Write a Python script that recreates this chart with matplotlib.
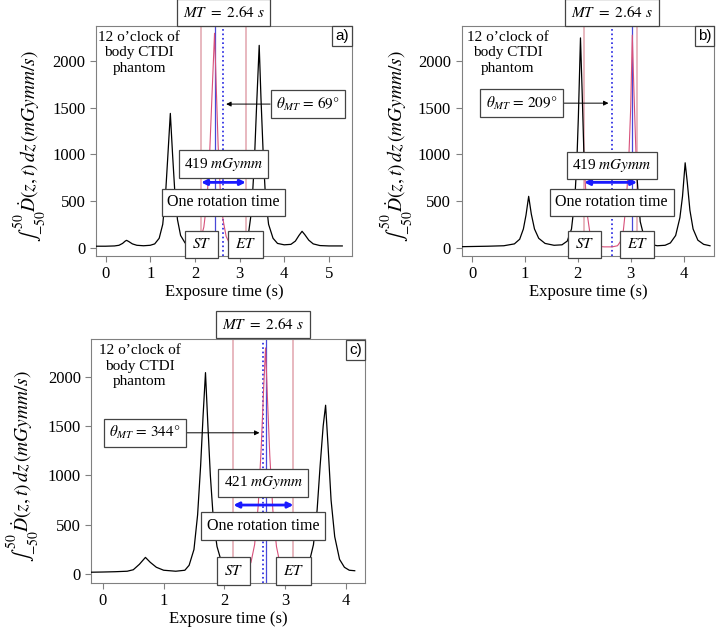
import matplotlib
matplotlib.use('Agg')
import matplotlib.pyplot as plt
import numpy as np

plt.rcParams['font.family'] = 'Liberation Serif'
plt.rcParams['mathtext.fontset'] = 'stix'

# panel a) : 69 deg
t_a = [-0.22, 0.0, 0.2, 0.3, 0.38, 0.44, 0.47, 0.52, 0.6, 0.7, 0.85, 1.0, 1.1, 1.2, 1.28, 1.34, 1.39,
       1.45, 1.5, 1.55, 1.61, 1.68, 1.78, 1.9, 2.0, 2.08, 2.14, 2.2, 2.27, 2.33, 2.38, 2.44, 2.48, 2.52,
       2.57, 2.63, 2.7, 2.78, 2.9, 3.0, 3.1, 3.14, 3.2, 3.27, 3.33, 3.38, 3.44, 3.48, 3.53, 3.58, 3.65,
       3.75, 3.85, 4.0, 4.15, 4.25, 4.33, 4.4, 4.46, 4.55, 4.65, 4.8, 5.0, 5.3]
d_a = [15, 15, 18, 25, 45, 70, 78, 65, 40, 25, 20, 25, 40, 100, 250, 550, 950,
       1440, 1000, 600, 300, 130, 50, 30, 30, 50, 110, 220, 500, 1000, 1600, 2300, 1700, 1100,
       600, 300, 120, 40, 20, 25, 50, 70, 150, 400, 900, 1500, 2170, 1600, 1000, 550, 250,
       100, 45, 30, 35, 70, 130, 175, 140, 80, 40, 22, 18, 18]

# panel b) : 209 deg
t_b = [-0.2, 0.0, 0.3, 0.6, 0.8, 0.9, 0.97, 1.02, 1.07, 1.12, 1.18, 1.26, 1.38, 1.55, 1.7, 1.8, 1.88,
       1.94, 1.98, 2.01, 2.05, 2.08, 2.12, 2.14, 2.18, 2.23, 2.29, 2.35, 2.5, 2.65, 2.75, 2.8, 2.86,
       2.91, 2.96, 3.0, 3.03, 3.06, 3.1, 3.12, 3.18, 3.25, 3.35, 3.5, 3.65, 3.75, 3.85, 3.93, 3.98,
       4.03, 4.07, 4.12, 4.18, 4.27, 4.38, 4.5]
d_b = [10, 12, 15, 20, 40, 90, 200, 350, 550, 360, 200, 100, 45, 25, 30, 70, 200,
       500, 900, 1400, 2250, 1700, 900, 700, 350, 150, 50, 15, 8, 8, 20, 60, 180,
       450, 900, 1500, 2280, 1700, 1000, 750, 280, 120, 40, 20, 25, 50, 130, 320, 550,
       910, 700, 400, 200, 80, 35, 20]

# panel c) : 344 deg
t_c = [-0.19, 0.0, 0.2, 0.4, 0.5, 0.6, 0.7, 0.78, 0.88, 1.0, 1.2, 1.35, 1.42, 1.5, 1.56, 1.61, 1.65,
       1.69, 1.73, 1.77, 1.82, 1.88, 1.95, 2.05, 2.15, 2.3, 2.38, 2.44, 2.5, 2.56, 2.61, 2.65, 2.68,
       2.71, 2.75, 2.8, 2.86, 2.92, 3.0, 3.14, 3.3, 3.4, 3.47, 3.53, 3.58, 3.63, 3.67, 3.71, 3.76,
       3.82, 3.9, 3.98, 4.06, 4.15]
d_c = [20, 22, 25, 30, 45, 100, 170, 120, 70, 40, 30, 40, 90, 250, 600, 1100, 1600,
       2040, 1500, 1000, 550, 280, 130, 70, 35, 30, 45, 120, 300, 700, 1300, 1900, 2290,
       1800, 1200, 650, 280, 100, 45, 35, 60, 120, 300, 650, 1100, 1500, 1710, 1300, 750,
       380, 150, 70, 40, 35]

start_times = [2.14, 2.12, 2.15]
end_times = [3.14, 3.12, 3.14]
peak_times = [2.44, 3.03, 2.68]
mid_time = 2.64
angles = ['69', '209', '344']
doses = ['419', '419', '421']
letters = ['a)', 'b)', 'c)']
y_ticks = [0, 500, 1000, 1500, 2000]

fig = plt.figure(figsize=(7.2, 6.29), dpi=100)
ax_a = fig.add_axes([0.133, 0.593, 0.356, 0.366])
ax_b = fig.add_axes([0.641, 0.593, 0.351, 0.366])
ax_c = fig.add_axes([0.127, 0.073, 0.380, 0.388])

box = dict(boxstyle='square,pad=0.35', fc='white', ec='#444444', lw=0.9)


def panel(ax, t, d, i, xlim, xticks, theta_pos, dose_y, text_x):
    t = np.array(t)
    d = np.array(d)
    st, et = start_times[i], end_times[i]
    inside = (t >= st) & (t <= et)
    before = t <= st
    after = t >= et
    ax.plot(t[before], d[before], color='black', lw=0.9, zorder=3)
    ax.plot(t[after], d[after], color='black', lw=0.9, zorder=3)
    ax.plot(t[inside], d[inside], color='#d8507a', lw=0.8, zorder=3)
    for x in (st, et):
        ax.axvline(x, color='#e2a4ae', lw=1.1, zorder=2)
    ax.axvline(peak_times[i], color='#4848d8', lw=0.9, zorder=2)
    ax.axvline(mid_time, color='#2020e0', lw=1.2, ls=':', zorder=2)

    ax.set_xlim(xlim)
    ax.set_ylim(-90, 2380)
    ax.set_xticks(xticks)
    ax.set_yticks(y_ticks)
    ax.tick_params(labelsize=12, color='#808080', length=4)
    for s in ax.spines.values():
        s.set_color('#808080')
    ax.set_xlabel('Exposure time (s)', fontsize=12, labelpad=1)
    ax.set_ylabel(r'$\int_{-50}^{50}\dot{D}(z,t)\,dz\,(mGymm/s)$', fontsize=14)
    ax.yaxis.set_label_coords(-0.185, 0.48)

    ax.text(text_x, 0.978, "12 o\u2019clock of\nbody CTDI\nphantom", transform=ax.get_xaxis_transform(),
            ha='center', va='top', fontsize=11, linespacing=1.25)
    ax.text(0.988, 0.985, letters[i], transform=ax.transAxes, ha='right', va='top',
            fontsize=11, family='Liberation Sans', bbox=dict(boxstyle='square,pad=0.2', fc='white', ec='#444444', lw=0.9))
    ax.text(mid_time, 1.058, r'$MT\ =\ 2.64\ s$', transform=ax.get_xaxis_transform(), ha='center', va='center',
            fontsize=11, bbox=dict(boxstyle='square,pad=0.4', fc='white', ec='#444444', lw=0.9), clip_on=False)
    ax.annotate(r'$\theta_{MT}\, =\, %s°$' % angles[i], xy=(mid_time + (0.06 if i == 0 else -0.06), theta_pos[1]),
                xytext=theta_pos, ha='center', va='center', fontsize=11, bbox=box,
                arrowprops=dict(arrowstyle='-|>', color='black', lw=0.7, mutation_scale=7, shrinkA=0, shrinkB=0))
    ax.text(mid_time, dose_y, r'%s $mGymm$' % doses[i], ha='center', va='center', fontsize=11, bbox=box, zorder=5)
    ax.annotate('', xy=(et, 700), xytext=(st, 700),
                arrowprops=dict(arrowstyle='<|-|>', color='#1a1aff', lw=2, mutation_scale=8, shrinkA=0, shrinkB=0))
    ax.text(mid_time, 487, 'One rotation time', ha='center', va='center', fontsize=11.5, bbox=box, zorder=5)
    for x, s in ((st, 'ST'), (et, 'ET')):
        ax.text(x, 0.05, r'$%s$' % s, transform=ax.get_xaxis_transform(), ha='center', va='center',
                fontsize=11, bbox=dict(boxstyle='square,pad=0.45', fc='white', ec='#444444', lw=0.9), zorder=5)


panel(ax_a, t_a, d_a, 0, (-0.22, 5.52), [0, 1, 2, 3, 4, 5], (4.53, 1540), 895, 0.75)
panel(ax_b, t_b, d_b, 1, (-0.2, 4.58), [0, 1, 2, 3, 4], (0.935, 1550), 880, 0.67)
panel(ax_c, t_c, d_c, 2, (-0.19, 4.32), [0, 1, 2, 3, 4], (0.69, 1431), 924, 0.61)

fig.savefig('out.png', dpi=100)
